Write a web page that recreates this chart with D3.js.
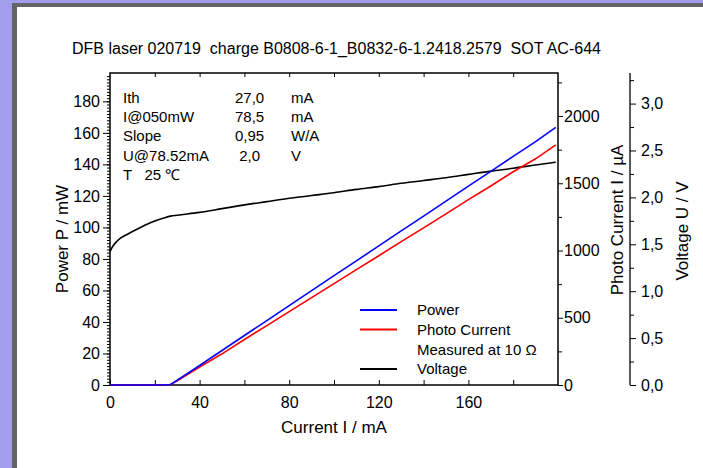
<!DOCTYPE html>
<html>
<head>
<meta charset="utf-8">
<script src="https://cdn.jsdelivr.net/npm/d3@7"></script>
<style>
  body { margin: 0; }
  svg { display: block; font-family: "Liberation Sans", Arial, sans-serif; }
</style>
</head>
<body>
<div id="plot-div"></div>
<script>
"use strict";

const current = [0, 1, 3, 5, 8, 12, 18, 24, 27, 30, 40, 50, 60, 70, 80, 90, 100, 110, 120, 130, 140, 150, 160, 170, 180, 190, 199];
const power = [0, 0, 0, 0, 0, 0, 0, 0.1, 0.3, 3.0, 12.4, 21.9, 31.4, 40.9, 50.4, 59.9, 69.4, 78.8, 88.3, 97.8, 107.2, 116.7, 126.2, 135.6, 145.1, 154.5, 163.5];
const photo = [0, 0, 0, 0, 0, 0, 0, 0, 2, 31, 133, 232, 338, 442, 546, 650, 754, 858, 961, 1066, 1168, 1272, 1378, 1480, 1586, 1682, 1785];
const voltage = [1.42, 1.47, 1.53, 1.57, 1.61, 1.66, 1.73, 1.78, 1.80, 1.81, 1.84, 1.88, 1.92, 1.955, 1.99, 2.02, 2.05, 2.085, 2.115, 2.15, 2.18, 2.21, 2.245, 2.28, 2.31, 2.345, 2.375];

const titleText = "DFB laser 020719  charge B0808-6-1_B0832-6-1.2418.2579  SOT AC-644";
const infoNames = ["Ith", "I@050mW", "Slope", "U@78.52mA", "T   25 \u2103"];
const infoValues = ["27,0", "78,5", "0,95", " 2,0", ""];
const infoUnits = ["mA", "mA", "W/A", "V", ""];
const legendNames = ["Power", "Photo Current", "Measured at 10 \u03a9", "Voltage"];
const legendColors = ["#0000ff", "#ff0000", null, "#000000"];

const xTicks = [0, 40, 80, 120, 160];
const pTicks = [0, 20, 40, 60, 80, 100, 120, 140, 160, 180];
const iTicks = [0, 500, 1000, 1500, 2000];
const uTicks = [0, 0.5, 1.0, 1.5, 2.0, 2.5, 3.0];

{ // start scope

const W = 703, H = 468;
const svg = d3.select("#plot-div").append("svg")
    .attr("width", W).attr("height", H);

// frame
svg.append("rect").attr("width", W).attr("height", H).attr("fill", "#a39ded");
svg.append("rect").attr("x", 12).attr("y", 3).attr("width", W).attr("height", H).attr("fill", "#646464");
svg.append("rect").attr("x", 17).attr("y", 7).attr("width", W).attr("height", H).attr("fill", "#ffffff");

const pLeft = 110, pRight = 558, pTop = 73, pBottom = 385;

const xScale = d3.scaleLinear().domain([0, 200]).range([pLeft, pRight]);
const yP = d3.scaleLinear().domain([0, 198]).range([pBottom, pTop]);
const yI = d3.scaleLinear().domain([0, 2320]).range([pBottom, pTop]);
const yU = d3.scaleLinear().domain([0, 3.326]).range([pBottom, pTop]);

const tickFont = 16;
const styleText = g => g.selectAll("text").attr("font-size", tickFont).attr("font-family", "Liberation Sans");

// bottom axis, ticks inward
svg.append("g")
    .attr("transform", "translate(0," + pBottom + ")")
    .call(d3.axisBottom(xScale).tickValues(d3.range(0, 200, 20)).tickSize(-5).tickFormat(""))
    .call(g => g.select(".domain").remove());
svg.append("g")
    .attr("transform", "translate(0," + pBottom + ")")
    .call(d3.axisBottom(xScale).tickValues(xTicks).tickSize(0).tickPadding(12))
    .call(g => g.select(".domain").remove())
    .call(styleText);

// top axis, ticks inward
svg.append("g")
    .attr("transform", "translate(0," + pTop + ")")
    .call(d3.axisTop(xScale).tickValues(d3.range(20, 200, 20)).tickSize(-4).tickFormat(""))
    .call(g => g.select(".domain").remove());

// left axis
svg.append("g")
    .attr("transform", "translate(" + pLeft + ",0)")
    .call(d3.axisLeft(yP).tickValues(d3.range(0, 198, 2)).tickSize(3).tickFormat(""))
    .call(g => g.select(".domain").remove());
svg.append("g")
    .attr("transform", "translate(" + pLeft + ",0)")
    .call(d3.axisLeft(yP).tickValues(pTicks).tickSize(7).tickPadding(3))
    .call(g => g.select(".domain").remove())
    .call(styleText);

// right axis, photo current
svg.append("g")
    .attr("transform", "translate(" + pRight + ",0)")
    .call(d3.axisRight(yI).tickValues(d3.range(250, 2320, 500)).tickSize(4).tickFormat(""))
    .call(g => g.select(".domain").remove());
svg.append("g")
    .attr("transform", "translate(" + pRight + ",0)")
    .call(d3.axisRight(yI).tickValues(iTicks).tickSize(5).tickPadding(1).tickFormat(d3.format("d")))
    .call(g => g.select(".domain").remove())
    .call(styleText);

// voltage axis
const uX = 630;
svg.append("g")
    .attr("transform", "translate(" + uX + ",0)")
    .call(d3.axisRight(yU).tickValues([0.25, 0.75, 1.25, 1.75, 2.25, 2.75, 3.25]).tickSize(4).tickFormat(""))
    .call(g => g.select(".domain").remove());
svg.append("g")
    .attr("transform", "translate(" + uX + ",0)")
    .call(d3.axisRight(yU).tickValues(uTicks).tickSize(6).tickPadding(5)
        .tickFormat(d => d3.format(".1f")(d).replace(".", ",")))
    .call(g => g.select(".domain").remove())
    .call(styleText);
svg.append("line")
    .attr("x1", uX).attr("x2", uX).attr("y1", pTop).attr("y2", pBottom)
    .attr("stroke", "#000").attr("stroke-width", 1.3);

// plot frame
svg.append("rect")
    .attr("x", pLeft).attr("y", pTop)
    .attr("width", pRight - pLeft).attr("height", pBottom - pTop)
    .attr("fill", "none").attr("stroke", "#000").attr("stroke-width", 1.5);

// curves
const lineOf = (ys, scale, curve) => d3.line()
    .curve(curve || d3.curveLinear)
    .x((d, i) => xScale(current[i]))
    .y(d => scale(d))(ys);

svg.append("path").attr("d", lineOf(voltage, yU, d3.curveMonotoneX))
    .attr("fill", "none").attr("stroke", "#000").attr("stroke-width", 1.6);
svg.append("path").attr("d", lineOf(photo, yI))
    .attr("fill", "none").attr("stroke", "#ff0000").attr("stroke-width", 1.6);
svg.append("path").attr("d", lineOf(power, yP))
    .attr("fill", "none").attr("stroke", "#0000ff").attr("stroke-width", 1.6);

// title
svg.append("text")
    .attr("x", 72).attr("y", 54)
    .attr("font-size", 16)
    .style("white-space", "pre")
    .text(titleText);

// info block
const info = svg.append("g").attr("font-size", 15);
infoNames.forEach((n, i) => {
    const yy = 103 + i * 19.2;
    info.append("text").attr("x", 123).attr("y", yy).style("white-space", "pre").text(n);
    info.append("text").attr("x", 235).attr("y", yy).style("white-space", "pre").text(infoValues[i]);
    info.append("text").attr("x", 291).attr("y", yy).text(infoUnits[i]);
});

// legend
const leg = svg.append("g").attr("font-size", 15);
const legY = [310, 329.5, 350, 369];
legendNames.forEach((n, i) => {
    if (legendColors[i]) {
        leg.append("line")
            .attr("x1", 360).attr("x2", 397)
            .attr("y1", legY[i]).attr("y2", legY[i])
            .attr("stroke", legendColors[i]).attr("stroke-width", 1.8);
    }
    leg.append("text").attr("x", 417).attr("y", legY[i] + 5).text(n);
});

// axis titles
svg.append("text")
    .attr("transform", "translate(" + ((pLeft + pRight) / 2) + ",433)")
    .attr("text-anchor", "middle").attr("font-size", 17)
    .text("Current I / mA");
svg.append("text")
    .attr("transform", "translate(68," + ((pTop + pBottom) / 2 + 10) + ") rotate(-90)")
    .attr("text-anchor", "middle").attr("font-size", 17)
    .text("Power P / mW");
svg.append("text")
    .attr("transform", "translate(623,220) rotate(-90)")
    .attr("text-anchor", "middle").attr("font-size", 17)
    .text("Photo Current I / \u00b5A");
svg.append("text")
    .attr("transform", "translate(688,231) rotate(-90)")
    .attr("text-anchor", "middle").attr("font-size", 17)
    .text("Voltage U / V");

} // stop scope
</script>
</body>
</html>
